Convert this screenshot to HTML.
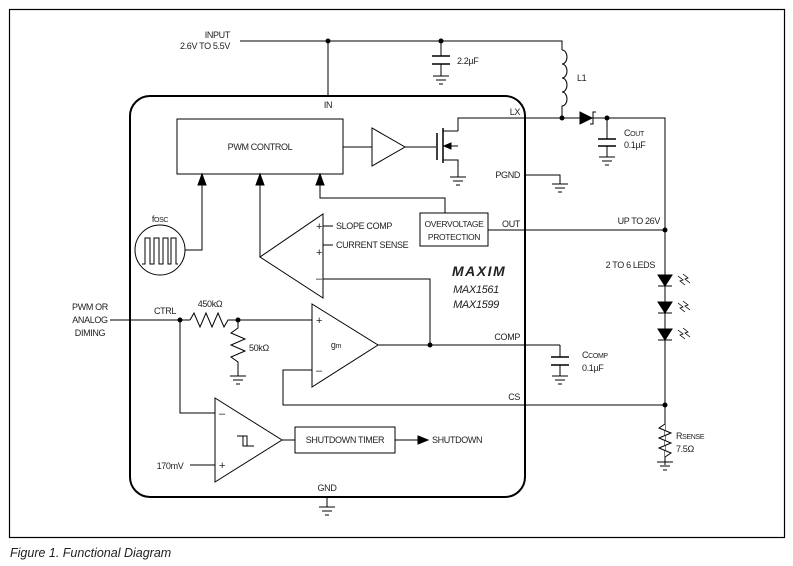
<!DOCTYPE html>
<html><head><meta charset="utf-8"><style>
html,body{margin:0;padding:0;background:#fff;}
svg{display:block;}
text{font-family:"Liberation Sans",sans-serif;fill:#222;}
</style></head><body>
<svg width="793" height="566" viewBox="0 0 793 566" xmlns="http://www.w3.org/2000/svg" font-size="9" letter-spacing="-0.35">
<g fill="none" stroke="#000" stroke-width="1">
<rect x="9.5" y="9.5" width="775" height="528" stroke-width="1.2"/>
<rect x="130" y="96" width="395" height="401" rx="20" stroke-width="2"/>
<polyline points="240,41 562,41 562,50"/>
<line x1="328" y1="41" x2="328" y2="96"/>
<line x1="441" y1="41" x2="441" y2="56"/>
<line x1="432" y1="56" x2="450" y2="56" stroke-width="1.5"/>
<line x1="432" y1="64" x2="450" y2="64" stroke-width="1.5"/>
<line x1="441" y1="64" x2="441" y2="76"/>
<line x1="433" y1="76" x2="449" y2="76"/><line x1="436" y1="80" x2="446" y2="80"/><line x1="439" y1="84" x2="443" y2="84"/>
<path d="M562,50 a5,7 0 0 1 0,14 a5,7 0 0 1 0,14 a5,7 0 0 1 0,14 a5,7 0 0 1 0,14 L562,118"/>
<polyline points="458,131 458,118 665,118 665,465"/>
<polygon points="580,112 580,124 592,118" fill="#000"/>
<polyline points="590,124 593,124 593,112 596,112"/>
<line x1="607" y1="118" x2="607" y2="139"/>
<line x1="598" y1="139" x2="616" y2="139" stroke-width="1.5"/>
<line x1="598" y1="146" x2="616" y2="146" stroke-width="1.5"/>
<line x1="607" y1="146" x2="607" y2="157"/>
<line x1="599" y1="157" x2="615" y2="157"/><line x1="602" y1="161" x2="612" y2="161"/><line x1="605" y1="165" x2="609" y2="165"/>
<rect x="177" y="119" width="166" height="55"/>
<line x1="343" y1="147" x2="372" y2="147"/>
<polygon points="372,128 372,166 405,147"/>
<line x1="405" y1="147" x2="436" y2="147"/>
<line x1="437" y1="133" x2="437" y2="160" stroke-width="1.5"/>
<line x1="443" y1="128" x2="443" y2="163" stroke-width="1.5"/>
<polyline points="443,131 458,131"/>
<polyline points="443,160 458,160 458,177"/>
<line x1="443" y1="146" x2="458" y2="146"/>
<polygon points="444,146 451,143 451,149" fill="#000"/>
<line x1="450" y1="177" x2="466" y2="177"/><line x1="453" y1="181" x2="463" y2="181"/><line x1="456" y1="185" x2="460" y2="185"/>
<polyline points="525,175 560,175 560,184"/>
<line x1="552" y1="184" x2="568" y2="184"/><line x1="555" y1="188" x2="565" y2="188"/><line x1="558" y1="192" x2="562" y2="192"/>
<polyline points="185,250 202,250 202,176"/>
<polygon points="198,185 206,185 202,174" fill="#000"/>
<line x1="260" y1="257" x2="260" y2="176"/>
<polygon points="256,185 264,185 260,174" fill="#000"/>
<polyline points="320,176 320,198 445,198 445,213"/>
<polygon points="316,185 324,185 320,174" fill="#000"/>
<rect x="420" y="213" width="68" height="33"/>
<line x1="488" y1="230" x2="665" y2="230"/>
<circle cx="160" cy="250" r="25"/>
<polyline points="142,264 145,264 145,238 150,238 150,264 154,264 154,238 159,238 159,264 163,264 163,238 168,238 168,264 171,264 171,238 176,238 176,264 178,264"/>
<polygon points="323,214 323,298 260,257"/>
<line x1="323" y1="226" x2="333" y2="226"/>
<line x1="323" y1="245" x2="333" y2="245"/>
<polyline points="323,279 430,279 430,345"/>
<line x1="110" y1="320" x2="190" y2="320"/>
<polyline points="190,320 194,313 200,327 206,313 212,327 218,313 224,327 228,320 312,320"/>
<polyline points="238,320 238,328 231,333 245,339 231,345 245,351 231,357 238,362 238,376"/>
<line x1="230" y1="376" x2="246" y2="376"/><line x1="233" y1="380" x2="243" y2="380"/><line x1="236" y1="384" x2="240" y2="384"/>
<polygon points="312,304 312,387 378,345"/>
<line x1="378" y1="345" x2="560" y2="345"/>
<line x1="560" y1="345" x2="560" y2="357"/>
<line x1="551" y1="357" x2="569" y2="357" stroke-width="1.5"/>
<line x1="551" y1="365" x2="569" y2="365" stroke-width="1.5"/>
<line x1="560" y1="365" x2="560" y2="376"/>
<line x1="552" y1="376" x2="568" y2="376"/><line x1="555" y1="380" x2="565" y2="380"/><line x1="558" y1="384" x2="562" y2="384"/>
<polyline points="312,370 283,370 283,405 665,405"/>
<polyline points="180,320 180,413 215,413"/>
<polygon points="215,398 215,482 282,440"/>
<line x1="190" y1="465" x2="215" y2="465"/>
<polyline points="237,436 243,436 243,446 254,446"/><polyline points="238,436 247,436 247,446"/>
<line x1="282" y1="440" x2="295" y2="440"/>
<rect x="295" y="427" width="100" height="26"/>
<line x1="395" y1="440" x2="420" y2="440"/>
<polygon points="418,436 428,440 418,444" fill="#000"/>
<polygon points="658,275 672,275 665,286" fill="#000"/><line x1="658" y1="286" x2="672" y2="286"/>
<polygon points="658,302 672,302 665,313" fill="#000"/><line x1="658" y1="313" x2="672" y2="313"/>
<polygon points="658,329 672,329 665,340" fill="#000"/><line x1="658" y1="340" x2="672" y2="340"/>
<g stroke-width="0.8">
<path d="M678,276 l5,4 -3,1 5,4 M683,274 l5,4 -3,1 5,4"/>
<path d="M678,303 l5,4 -3,1 5,4 M683,301 l5,4 -3,1 5,4"/>
<path d="M678,330 l5,4 -3,1 5,4 M683,328 l5,4 -3,1 5,4"/>
</g>
<polyline points="665,420 665,424 659,428 671,433 659,438 671,443 659,448 671,453 665,457 665,462" fill="#fff"/>
<line x1="657" y1="462" x2="673" y2="462"/><line x1="660" y1="466" x2="670" y2="466"/><line x1="663" y1="470" x2="667" y2="470"/>
<line x1="327" y1="497" x2="327" y2="507"/>
<line x1="319" y1="507" x2="335" y2="507"/><line x1="322" y1="511" x2="332" y2="511"/><line x1="325" y1="515" x2="329" y2="515"/>
</g>
<g fill="#000">
<circle cx="328" cy="41" r="2.5"/><circle cx="441" cy="41" r="2.5"/>
<circle cx="562" cy="118" r="2.5"/><circle cx="607" cy="118" r="2.5"/>
<circle cx="665" cy="230" r="2.5"/><circle cx="665" cy="405" r="2.5"/>
<circle cx="180" cy="320" r="2.5"/><circle cx="238" cy="320" r="2.5"/>
<circle cx="430" cy="345" r="2.5"/>
</g>
<text x="230" y="38" text-anchor="end">INPUT</text>
<text x="230" y="49" text-anchor="end">2.6V TO 5.5V</text>
<text x="457" y="64">2.2µF</text>
<text x="577" y="81">L1</text>
<text x="328" y="108" text-anchor="middle">IN</text>
<text x="520" y="115" text-anchor="end">LX</text>
<text x="624" y="136">C<tspan font-size="7">OUT</tspan></text>
<text x="624" y="148">0.1µF</text>
<text x="260" y="150" text-anchor="middle">PWM CONTROL</text>
<text x="520" y="178" text-anchor="end">PGND</text>
<text x="160" y="222" text-anchor="middle">f<tspan font-size="7">OSC</tspan></text>
<text x="336" y="229">SLOPE COMP</text>
<text x="336" y="248">CURRENT SENSE</text>
<text x="454" y="227" text-anchor="middle" font-size="8.5">OVERVOLTAGE</text>
<text x="454" y="240" text-anchor="middle" font-size="8.5">PROTECTION</text>
<text x="520" y="227" text-anchor="end">OUT</text>
<text x="660" y="224" text-anchor="end">UP TO 26V</text>
<text x="655" y="268" text-anchor="end">2 TO 6 LEDS</text>
<text x="316" y="230" font-size="11">+</text><text x="316" y="256" font-size="11">+</text><text x="316" y="282" font-size="11">–</text>
<text x="452" y="276" font-size="14" font-weight="bold" font-style="italic" letter-spacing="1.5">MAXIM</text>
<text x="476" y="293" text-anchor="middle" font-size="11" font-style="italic">MAX1561</text>
<text x="476" y="308" text-anchor="middle" font-size="11" font-style="italic">MAX1599</text>
<text x="90" y="310" text-anchor="middle">PWM OR</text>
<text x="90" y="323" text-anchor="middle">ANALOG</text>
<text x="90" y="336" text-anchor="middle">DIMING</text>
<text x="165" y="314" text-anchor="middle">CTRL</text>
<text x="210" y="307" text-anchor="middle">450kΩ</text>
<text x="249" y="351">50kΩ</text>
<text x="316" y="324" font-size="11">+</text><text x="316" y="374" font-size="11">–</text>
<text x="336" y="348" text-anchor="middle">g<tspan font-size="7">m</tspan></text>
<text x="520" y="340" text-anchor="end">COMP</text>
<text x="582" y="358">C<tspan font-size="7">COMP</tspan></text>
<text x="582" y="371">0.1µF</text>
<text x="520" y="400" text-anchor="end">CS</text>
<text x="219" y="417" font-size="11">–</text><text x="219" y="469" font-size="11">+</text>
<text x="170" y="469" text-anchor="middle">170mV</text>
<text x="345" y="443" text-anchor="middle">SHUTDOWN TIMER</text>
<text x="432" y="443">SHUTDOWN</text>
<text x="676" y="439">R<tspan font-size="7">SENSE</tspan></text>
<text x="676" y="452">7.5Ω</text>
<text x="327" y="491" text-anchor="middle">GND</text>
<text x="10" y="557" font-size="12.5" font-style="italic" letter-spacing="0">Figure 1. Functional Diagram</text>
</svg>
</body></html>
